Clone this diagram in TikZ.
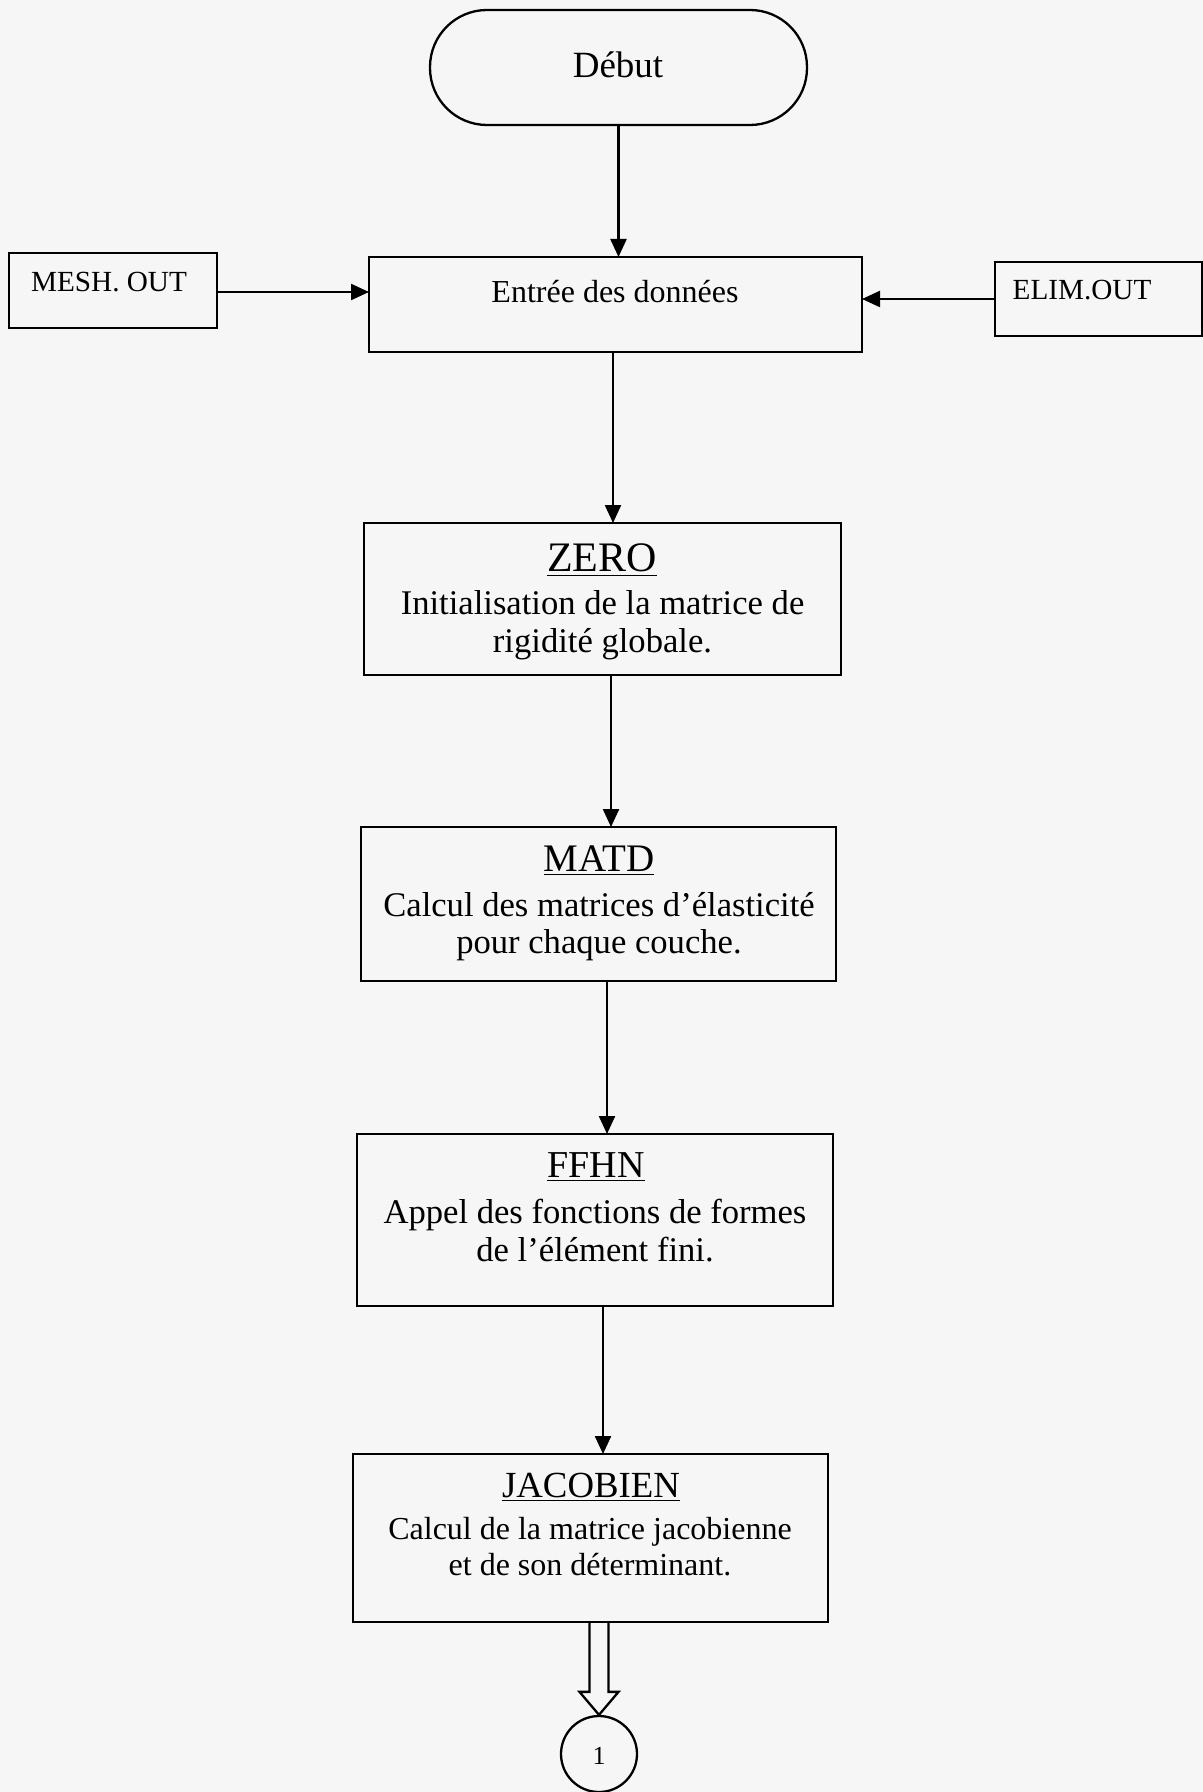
\documentclass[tikz,border=0pt]{standalone}
\usepackage{fontspec}
\setmainfont{Liberation Serif}
\usetikzlibrary{arrows.meta,calc}
\newcommand\ftitle[1]{\fontsize{#1}{24}\selectfont}
\newcommand\fdebut{\fontsize{18.5}{22}\selectfont}
\newcommand\fbody{\fontsize{17.3}{18.8}\selectfont}
\newcommand\fbodysm{\fontsize{16}{17.8}\selectfont}
\newcommand\fentree{\fontsize{16}{18.5}\selectfont}
\newcommand\fside{\fontsize{14.6}{18}\selectfont}
\definecolor{paper}{rgb}{0.965,0.965,0.965}
\begin{document}
\begin{tikzpicture}[x=0.5pt,y=-0.5pt,line width=1.15pt,
  box/.style={draw,rectangle,inner sep=0pt,outer sep=0pt},
  txt/.style={inner sep=0pt,align=center},
  arr/.style={-{Triangle[length=9pt,width=8pt]}}]
\fill[paper] (0,0) rectangle (1203,1792);
\useasboundingbox (0,0) rectangle (1203,1792);

% boxes
\node[box,rounded corners=28.5pt,minimum width=188.5pt,minimum height=57.5pt] (debut) at (618.5,67.5) {};
\node[box,minimum width=246.5pt,minimum height=47.5pt] (entree) at (615.5,304.5) {};
\node[box,minimum width=104pt,minimum height=37.5pt] (mesh) at (113,290.5) {};
\node[box,minimum width=103.5pt,minimum height=37pt] (elim) at (1098.5,299) {};
\node[box,minimum width=238.5pt,minimum height=76pt] (zero) at (602.5,599) {};
\node[box,minimum width=237.5pt,minimum height=77pt] (matd) at (598.5,904) {};
\node[box,minimum width=238pt,minimum height=86pt] (ffhn) at (595,1220) {};
\node[box,minimum width=237.5pt,minimum height=84pt] (jac) at (590.5,1538) {};
\node[draw,circle,inner sep=0pt,minimum size=38pt] (one) at (599,1754) {};

% texts
\node[txt,font=\fdebut] (debutT) at (618,65) {Début};
\node[txt,font=\fentree] (entreeT) at (615,292) {Entrée des données};
\node[txt,font=\fside] (meshT) at (109,282) {MESH. OUT};
\node[txt,font=\fside] (elimT) at (1082,290) {ELIM.OUT};
\node[txt,font=\ftitle{21}] (zeroT) at (602,560) {\underline{ZERO}};
\node[txt,font=\fbody] (zeroB) at (602.5,625.5) {Initialisation de la matrice de\\rigidité globale.};
\node[txt,font=\ftitle{19.5}] (matdT) at (599,861) {\underline{MATD}};
\node[txt,font=\fbody] (matdB) at (599,926.5) {Calcul des matrices d’élasticité\\pour chaque couche.};
\node[txt,font=\ftitle{19}] (ffhnT) at (596,1167) {\underline{FFHN}};
\node[txt,font=\fbody] (ffhnB) at (595,1230.5) {Appel des fonctions de formes\\de l’élément fini.};
\node[txt,font=\ftitle{18.4}] (jacT) at (591,1487) {\underline{JACOBIEN}};
\node[txt,font=\fbodysm] (jacB) at (590,1546.5) {Calcul de la matrice jacobienne\\et de son déterminant.};
\node[txt,font=\fontsize{13}{15}\selectfont] (oneT) at (599,1756) {1};

% connectors
\draw[arr] (debut.south) -- (debut.south |- entree.north);
\draw[arr] ([yshift=-0.75pt]mesh.east) -- ([yshift=-0.75pt]mesh.east -| entree.west);
\draw[arr] (elim.west) -- (elim.west -| entree.east);
\draw[arr] ([xshift=-1.25pt]entree.south) -- ([xshift=-1.25pt]entree.south |- zero.north);
\draw[arr] ([xshift=4.25pt]zero.south) -- ([xshift=4.25pt]zero.south |- matd.north);
\draw[arr] ([xshift=4.25pt]matd.south) -- ([xshift=4.25pt]matd.south |- ffhn.north);
\draw[arr] ([xshift=4pt]ffhn.south) -- ([xshift=4pt]ffhn.south |- jac.north);
% hollow block arrow
\coordinate (dl) at ($(one.north)+(-9.5,-23)$);
\coordinate (dr) at ($(one.north)+(9.5,-23)$);
\draw[line join=miter] (dl |- jac.south) -- (dl) -- ++(-10,0) -- (one.north) -- ($(dr)+(10,0)$) -- (dr) -- (dr |- jac.south);
\end{tikzpicture}
\end{document}
